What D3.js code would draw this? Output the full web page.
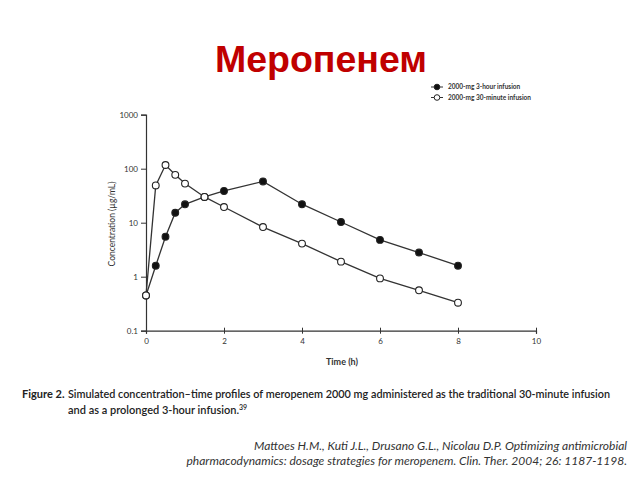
<!DOCTYPE html>
<html>
<head>
<meta charset="utf-8">
<script src="https://cdn.jsdelivr.net/npm/d3@7"></script>
<style>
  body { margin: 0; background: #fff; }
  svg { display: block; }
</style>
</head>
<body>
<script>
// data
const times = [0, 0.25, 0.5, 0.75, 1, 1.5, 2, 3, 4, 5, 6, 7, 8];
const infusion3h = [0.45, 1.6, 5.5, 15.3, 21.9, 30, 38.7, 58, 22, 10.3, 4.8, 2.8, 1.6];
const infusion30m = [0.45, 49, 117, 77, 53, 30, 19.5, 8.3, 4.1, 1.9, 0.93, 0.56, 0.33];
const yTicks = [0.1, 1, 10, 100, 1000];
const xTicks = [0, 2, 4, 6, 8, 10];
const seriesNames = ["2000-mg 3-hour infusion", "2000-mg 30-minute infusion"];

const w = 640, h = 480;
const svg = d3.select("body").append("svg").attr("width", w).attr("height", h);

const x = d3.scaleLinear().domain([0, 10]).range([146, 536]);
const y = d3.scaleLog().domain([0.1, 1000]).range([330.7, 114.7]);

// title
svg.append("text")
  .attr("x", 321).attr("y", 72)
  .attr("text-anchor", "middle")
  .attr("font-family", "Liberation Sans, Arial, sans-serif")
  .attr("font-weight", "bold")
  .attr("font-size", 37.5)
  .attr("fill", "#c00000")
  .text("Меропенем");

const axisFont = "Lato, 'DejaVu Sans', sans-serif";

// axes
const yAxis = svg.append("g")
  .attr("transform", "translate(146,0)")
  .call(d3.axisLeft(y).tickValues(yTicks).tickFormat(d => d).tickSize(5).tickPadding(3));
const xAxis = svg.append("g")
  .attr("transform", "translate(0,330.7)")
  .call(d3.axisBottom(x).tickValues(xTicks).tickSize(3).tickPadding(5));
xAxis.selectAll(".tick line").attr("y1", -3);
[yAxis, xAxis].forEach(g => {
  g.select(".domain").attr("stroke", "#333").attr("stroke-width", 1.2);
  g.selectAll(".tick line").attr("stroke", "#333").attr("stroke-width", 1);
  g.selectAll("text").attr("font-family", axisFont).attr("font-size", 8).attr("fill", "#333");
});

svg.append("text")
  .attr("transform", "translate(115,224) rotate(-90)")
  .attr("text-anchor", "middle")
  .attr("font-family", axisFont).attr("font-size", 8.5).attr("fill", "#333")
  .text("Concentration (µg/mL)");
svg.append("text")
  .attr("x", 342).attr("y", 365)
  .attr("text-anchor", "middle")
  .attr("font-family", axisFont).attr("font-size", 9).attr("font-weight", "bold").attr("fill", "#333")
  .text("Time (h)");

// series
const line = d3.line().x(d => x(d[0])).y(d => y(d[1]));
const series = [
  { vals: infusion3h, fill: "#111" },
  { vals: infusion30m, fill: "#fff" }
];
series.forEach(s => {
  const pts = times.map((t, i) => [t, s.vals[i]]);
  svg.append("path").datum(pts)
    .attr("d", line).attr("fill", "none")
    .attr("stroke", "#333").attr("stroke-width", 1.3);
  svg.append("g").selectAll("circle").data(pts).enter().append("circle")
    .attr("cx", d => x(d[0])).attr("cy", d => y(d[1]))
    .attr("r", 3.4)
    .attr("fill", s.fill).attr("stroke", "#222").attr("stroke-width", 1.1);
});

// legend
const leg = svg.append("g");
series.forEach((s, i) => {
  const ly = 87 + i * 10.5;
  leg.append("line").attr("x1", 431).attr("x2", 443).attr("y1", ly).attr("y2", ly)
    .attr("stroke", "#333").attr("stroke-width", 1);
  leg.append("circle").attr("cx", 437).attr("cy", ly).attr("r", 2.8)
    .attr("fill", s.fill).attr("stroke", "#222").attr("stroke-width", 1);
  leg.append("text").attr("x", 448).attr("y", ly + 2.3)
    .attr("font-family", axisFont).attr("font-size", 6.5).attr("font-weight", "bold").attr("fill", "#333")
    .text(seriesNames[i]);
});

// figure caption
const cap = svg.append("text")
  .attr("font-family", axisFont).attr("font-size", 11).attr("font-weight", "bold").attr("fill", "#222");
cap.append("tspan").attr("x", 22).attr("y", 398).text("Figure 2.");
cap.append("tspan").attr("x", 68).attr("y", 398)
  .attr("textLength", 542).attr("lengthAdjust", "spacingAndGlyphs")
  .attr("font-weight", 600)
  .text("Simulated concentration–time profiles of meropenem 2000 mg administered as the traditional 30-minute infusion");
const cap2 = svg.append("text")
  .attr("font-family", axisFont).attr("font-size", 11).attr("font-weight", 600).attr("fill", "#222")
  .attr("x", 68).attr("y", 414);
cap2.append("tspan").text("and as a prolonged 3-hour infusion.");
cap2.append("tspan").attr("font-size", 7).attr("dy", -4).text("39");

// reference
const ref = ["Mattoes H.M., Kuti J.L., Drusano G.L., Nicolau D.P. Optimizing antimicrobial",
  "pharmacodynamics: dosage strategies for meropenem. Clin. Ther. 2004; 26: 1187-1198."];
svg.selectAll("text.ref").data(ref).enter().append("text")
  .attr("class", "ref")
  .attr("x", 627).attr("y", (d, i) => 450 + i * 15)
  .attr("text-anchor", "end")
  .attr("font-family", "Lato, 'Open Sans', sans-serif")
  .attr("font-style", "italic").attr("font-size", 12).attr("fill", "#333")
  .text(d => d);
</script>
</body>
</html>
